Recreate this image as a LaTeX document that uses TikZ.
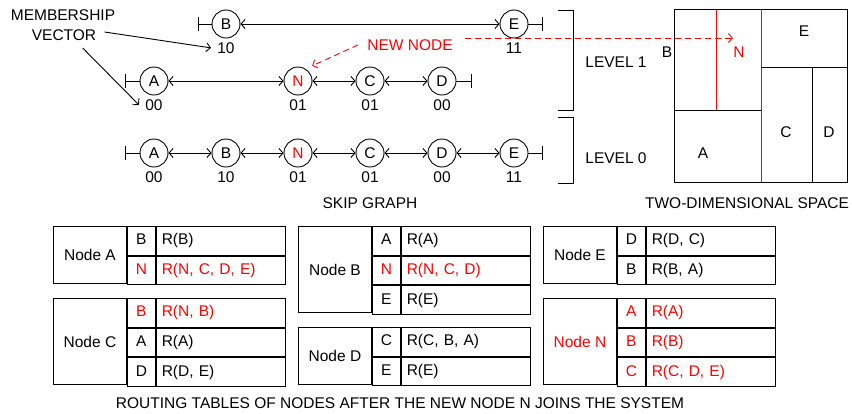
\documentclass[tikz,border=0pt]{standalone}
\usepackage{fontspec}
\setmainfont{Liberation Sans}
\usetikzlibrary{arrows.meta, positioning}

\tikzstyle{snode}    = [circle, draw, minimum size=28pt, inner sep=0pt]
\tikzstyle{vec}      = [inner sep=0pt]
\tikzstyle{link}     = [{Straight Barb[length=4pt,width=9pt]}-{Straight Barb[length=4pt,width=9pt]}]
\tikzstyle{term}     = [-{Bar[width=14pt]}]
\tikzstyle{arrow}    = [-{Straight Barb[length=4pt,width=9pt]}]
\tikzstyle{namecell} = [draw, minimum width=73pt, inner sep=0pt, anchor=north west]
\tikzstyle{keycell}  = [draw, minimum width=28pt, minimum height=28.7pt, inner sep=0pt,
                        text height=11pt, text depth=3pt]
\tikzstyle{valcell}  = [draw, minimum height=28.7pt, text width=118pt, inner xsep=5.5pt,
                        inner ysep=0pt, align=left, text height=11pt, text depth=3pt]

\begin{document}
\begin{tikzpicture}[x=1pt, y=-1pt, line width=0.9pt,
                    every node/.style={font=\fontsize{15.5}{18}\selectfont}]
  \useasboundingbox (0,0) rectangle (852,413);

  % skip graph, upper level
  \node[snode] (b2) at (226,24) {B};
  \node[snode] (e2) at (514,24) {E};
  \node[vec, below=3.5pt of b2] (b2v) {10};
  \node[vec, below=3.5pt of e2] (e2v) {11};
  \coordinate (b2l) at (198,24);
  \coordinate (e2r) at (543,24);
  \draw[term] (b2) -- (b2l);
  \draw[term] (e2) -- (e2r);
  \draw[link] (b2) -- (e2);

  % level 1
  \node[snode] (a1) at (154,81) {A};
  \node[snode, text=red] (n1) at (298,81) {N};
  \node[snode] (c1) at (370,81) {C};
  \node[snode] (d1) at (442,81) {D};
  \node[vec, below=3.5pt of a1] (a1v) {00};
  \node[vec, below=3.5pt of n1] (n1v) {01};
  \node[vec, below=3.5pt of c1] (c1v) {01};
  \node[vec, below=3.5pt of d1] (d1v) {00};
  \coordinate (a1l) at (125,81);
  \coordinate (d1r) at (472,81);
  \draw[term] (a1) -- (a1l);
  \draw[term] (d1) -- (d1r);
  \draw[link] (a1) -- (n1);
  \draw[link] (n1) -- (c1);
  \draw[link] (c1) -- (d1);

  % level 0
  \node[snode] (a0) at (154,153) {A};
  \node[snode] (b0) at (226,153) {B};
  \node[snode, text=red] (n0) at (298,153) {N};
  \node[snode] (c0) at (370,153) {C};
  \node[snode] (d0) at (442,153) {D};
  \node[snode] (e0) at (514,153) {E};
  \node[vec, below=3.5pt of a0] (a0v) {00};
  \node[vec, below=3.5pt of b0] (b0v) {10};
  \node[vec, below=3.5pt of n0] (n0v) {01};
  \node[vec, below=3.5pt of c0] (c0v) {01};
  \node[vec, below=3.5pt of d0] (d0v) {00};
  \node[vec, below=3.5pt of e0] (e0v) {11};
  \coordinate (a0l) at (125,153);
  \coordinate (e0r) at (543,153);
  \draw[term] (a0) -- (a0l);
  \draw[term] (e0) -- (e0r);
  \draw[link] (a0) -- (b0);
  \draw[link] (b0) -- (n0);
  \draw[link] (n0) -- (c0);
  \draw[link] (c0) -- (d0);
  \draw[link] (d0) -- (e0);

  % membership vector
  \node[vec] (mv1) at (63,15) {MEMBERSHIP};
  \node[vec] (mv2) at (64,35) {VECTOR};
  \draw[arrow] ([xshift=8pt,yshift=3pt]mv2.east) -- ([xshift=-6pt]b2v.west);
  \draw[arrow] ([xshift=-14pt,yshift=-7pt]mv2.south east) -- ([xshift=-6pt]a1v.west);

  % new node
  \node[vec, text=red] (nn) at (410,45) {NEW NODE};
  \draw[red, dash pattern=on 6pt off 4pt, arrow]
    ([xshift=-9pt]nn.west) -- ([shift={(4pt,5pt)}]n1.north east);

  % levels
  \draw (558,10) -| (573,110) -- (558,110);
  \draw (558,117) -| (573,183) -- (558,183);
  \node[vec] (lv1) at (616,62) {LEVEL 1};
  \node[vec] (lv0) at (616,158) {LEVEL 0};
  \node[vec] (sg) at (370,203) {SKIP GRAPH};

  % two-dimensional space
  \draw (674,9) rectangle (847,182);
  \draw[black!70] (761,9) -- (761,182);
  \draw (674,110) -- (761,110);
  \draw[red] (716,9) -- (716,110);
  \draw (761,67) -- (847,67);
  \draw (812,67) -- (812,182);
  \node[vec] (sB) at (667,52) {B};
  \node[vec, text=red] (sN) at (739,52) {N};
  \node[vec] (sE) at (804,31) {E};
  \node[vec] (sC) at (786,132) {C};
  \node[vec] (sD) at (829,132) {D};
  \node[vec] (sA) at (703,153) {A};
  \node[vec] (ts) at (747,203) {TWO-DIMENSIONAL SPACE};
  \coordinate (nstart) at (465,38);
  \draw[red, dash pattern=on 6pt off 4pt, arrow] (nstart) -- (nstart -| sN.west);

  % routing tables
  \node[namecell, minimum height=57.4pt] (tA) at (53,226) {Node A};
  \node[keycell, anchor=north west] (tA1) at (tA.north east) {B};
  \node[valcell, right=0pt of tA1] (tA1r) {R(B)};
  \node[keycell, below=0pt of tA1, text=red] (tA2) {N};
  \node[valcell, right=0pt of tA2, text=red] (tA2r) {R(N, C, D, E)};

  \node[namecell, minimum height=86.1pt] (tC) at (53,298) {Node C};
  \node[keycell, anchor=north west, text=red] (tC1) at (tC.north east) {B};
  \node[valcell, right=0pt of tC1, text=red] (tC1r) {R(N, B)};
  \node[keycell, below=0pt of tC1] (tC2) {A};
  \node[valcell, right=0pt of tC2] (tC2r) {R(A)};
  \node[keycell, below=0pt of tC2] (tC3) {D};
  \node[valcell, right=0pt of tC3] (tC3r) {R(D, E)};

  \node[namecell, minimum height=86.1pt] (tB) at (298,226) {Node B};
  \node[keycell, anchor=north west] (tB1) at (tB.north east) {A};
  \node[valcell, right=0pt of tB1] (tB1r) {R(A)};
  \node[keycell, below=0pt of tB1, text=red] (tB2) {N};
  \node[valcell, right=0pt of tB2, text=red] (tB2r) {R(N, C, D)};
  \node[keycell, below=0pt of tB2] (tB3) {E};
  \node[valcell, right=0pt of tB3] (tB3r) {R(E)};

  \node[namecell, minimum height=57.4pt] (tD) at (298,327) {Node D};
  \node[keycell, anchor=north west] (tD1) at (tD.north east) {C};
  \node[valcell, right=0pt of tD1] (tD1r) {R(C, B, A)};
  \node[keycell, below=0pt of tD1] (tD2) {E};
  \node[valcell, right=0pt of tD2] (tD2r) {R(E)};

  \node[namecell, minimum height=57.4pt] (tE) at (543,226) {Node E};
  \node[keycell, anchor=north west] (tE1) at (tE.north east) {D};
  \node[valcell, right=0pt of tE1] (tE1r) {R(D, C)};
  \node[keycell, below=0pt of tE1] (tE2) {B};
  \node[valcell, right=0pt of tE2] (tE2r) {R(B, A)};

  \node[namecell, minimum height=86.1pt, text=red] (tN) at (543,298) {Node N};
  \node[keycell, anchor=north west, text=red] (tN1) at (tN.north east) {A};
  \node[valcell, right=0pt of tN1, text=red] (tN1r) {R(A)};
  \node[keycell, below=0pt of tN1, text=red] (tN2) {B};
  \node[valcell, right=0pt of tN2, text=red] (tN2r) {R(B)};
  \node[keycell, below=0pt of tN2, text=red] (tN3) {C};
  \node[valcell, right=0pt of tN3, text=red] (tN3r) {R(C, D, E)};

  \node[vec] (rt) at (400,403) {ROUTING TABLES OF NODES AFTER THE NEW NODE N JOINS THE SYSTEM};
\end{tikzpicture}
\end{document}
